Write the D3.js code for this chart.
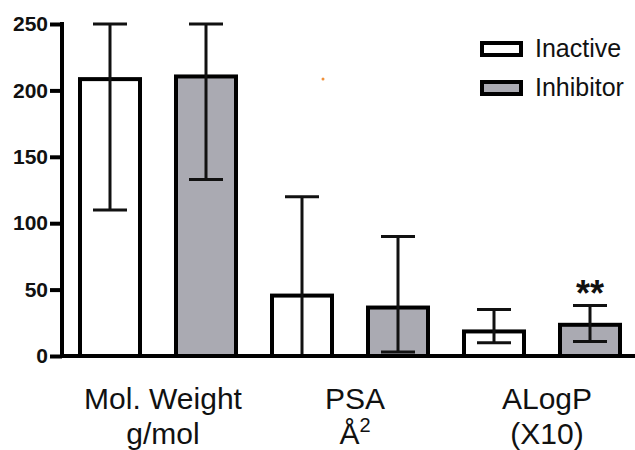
<!DOCTYPE html>
<html>
<head>
<meta charset="utf-8">
<script src="https://cdn.jsdelivr.net/npm/d3@7"></script>
<style>
  body { margin: 0; background: #fff; }
  svg { font-family: "Liberation Sans", Arial, sans-serif; }
</style>
</head>
<body>
<div id="chart"></div>
<script>
// data
const categories = ["Mol. Weight", "PSA", "ALogP"];
const units = ["g/mol", "Å", "(X10)"];
const series = ["Inactive", "Inhibitor"];
const inactive = [210, 47, 20];
const inactiveHigh = [250, 120, 35];
const inactiveLow = [110, 0, 10];
const inhibitor = [212, 38, 25];
const inhibitorHigh = [250, 90, 38];
const inhibitorLow = [133, 3, 11];
const yTicks = [0, 50, 100, 150, 200, 250];

const width = 635, height = 450;
const fills = { Inactive: "#ffffff", Inhibitor: "#aaaab2" };

const svg = d3.select("#chart").append("svg")
    .attr("width", width)
    .attr("height", height);

const y = d3.scaleLinear().domain([0, 250]).range([356, 24]);
const x0 = d3.scaleBand().domain(categories).range([62, 638]).padding(0);
const x1 = d3.scaleBand().domain(series)
    .range([0, x0.bandwidth()])
    .paddingInner(1 / 3)
    .paddingOuter(1 / 6);

// build rows from the arrays
const rows = [];
categories.forEach((c, i) => {
    rows.push({ cat: c, s: "Inactive", v: inactive[i], hi: inactiveHigh[i], lo: inactiveLow[i] });
    rows.push({ cat: c, s: "Inhibitor", v: inhibitor[i], hi: inhibitorHigh[i], lo: inhibitorLow[i] });
});

const bw = x1.bandwidth();

// bars
svg.append("g").selectAll("rect")
    .data(rows)
    .enter()
    .append("rect")
    .attr("x", d => x0(d.cat) + x1(d.s) + 2)
    .attr("y", d => y(d.v) + 2)
    .attr("width", bw - 4)
    .attr("height", d => y(0) - y(d.v) - 2)
    .attr("fill", d => fills[d.s])
    .attr("stroke", "#000")
    .attr("stroke-width", 4);

// error bars
const err = svg.append("g").attr("stroke", "#111").attr("stroke-width", 3);
rows.forEach(d => {
    const cx = x0(d.cat) + x1(d.s) + bw / 2;
    err.append("line").attr("x1", cx).attr("x2", cx).attr("y1", y(d.hi)).attr("y2", y(d.lo));
    err.append("line").attr("x1", cx - 17).attr("x2", cx + 17).attr("y1", y(d.hi)).attr("y2", y(d.hi));
    err.append("line").attr("x1", cx - 17).attr("x2", cx + 17).attr("y1", y(d.lo)).attr("y2", y(d.lo));
});

// y axis
const yAxis = svg.append("g")
    .attr("transform", "translate(62,0)")
    .call(d3.axisLeft(y).tickValues(yTicks).tickSize(12).tickSizeOuter(0).tickPadding(2));
yAxis.select(".domain").remove();
yAxis.selectAll(".tick line").attr("stroke", "#000").attr("stroke-width", 4);
yAxis.selectAll(".tick text")
    .attr("font-size", 21)
    .attr("font-weight", "bold")
    .attr("fill", "#111")
    .attr("font-family", "Liberation Sans, Arial, sans-serif");

svg.append("line")
    .attr("x1", 62).attr("x2", 62)
    .attr("y1", y(250) - 2).attr("y2", y(0) + 2)
    .attr("stroke", "#000").attr("stroke-width", 4);

// x axis line
svg.append("line")
    .attr("x1", 60).attr("x2", width)
    .attr("y1", y(0)).attr("y2", y(0))
    .attr("stroke", "#000").attr("stroke-width", 4);

// category labels
const labels = svg.append("g")
    .attr("font-size", 30)
    .attr("fill", "#111")
    .attr("text-anchor", "middle");
categories.forEach((c, i) => {
    const cx = x0(c) + x0.bandwidth() / 2 + 5;
    labels.append("text").attr("x", cx).attr("y", 409).text(c);
    const t = labels.append("text").attr("x", cx).attr("y", 444).text(units[i]);
    if (units[i] === "Å") {
        t.append("tspan").attr("font-size", 20).attr("dy", -12).text("2");
    }
});

// significance mark
svg.append("text")
    .attr("x", x0("ALogP") + x1("Inhibitor") + bw / 2)
    .attr("y", 306)
    .attr("text-anchor", "middle")
    .attr("font-size", 36)
    .attr("font-weight", "bold")
    .attr("fill", "#111")
    .text("**");

// legend
const legend = svg.append("g");
series.forEach((s, i) => {
    const ly = 41 + i * 39;
    legend.append("rect")
        .attr("x", 482).attr("y", ly + 2)
        .attr("width", 39).attr("height", 12)
        .attr("fill", fills[s])
        .attr("stroke", "#000")
        .attr("stroke-width", 4);
    legend.append("text")
        .attr("x", 535).attr("y", ly + 16)
        .attr("font-size", 25)
        .attr("fill", "#111")
        .text(s);
});

// stray dot present in the original image
svg.append("circle").attr("cx", 323).attr("cy", 79).attr("r", 1.5).attr("fill", "#f0903a");
</script>
</body>
</html>
